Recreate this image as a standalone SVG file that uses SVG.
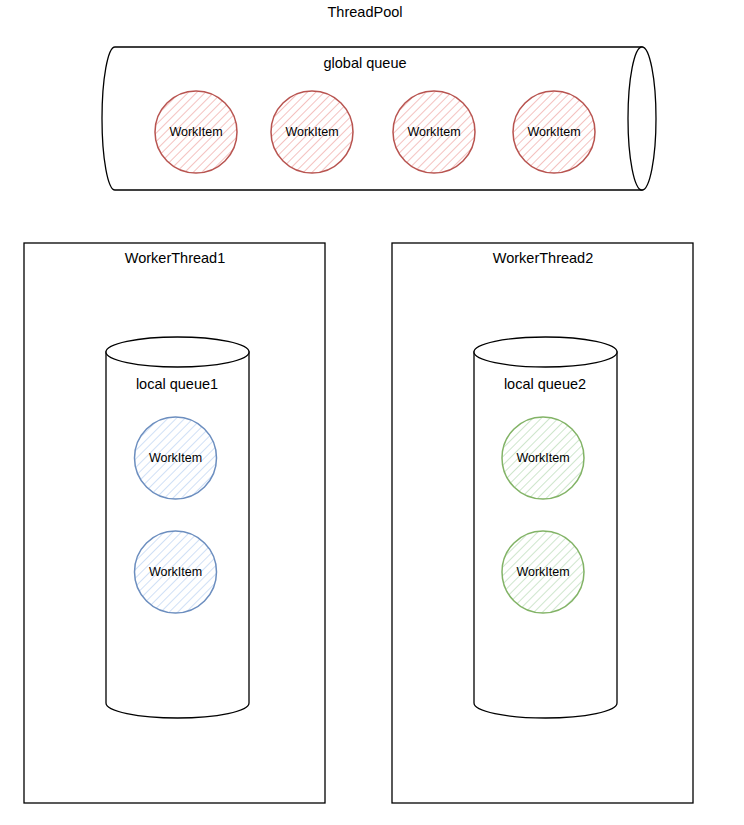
<svg xmlns="http://www.w3.org/2000/svg" width="744" height="825" viewBox="0 0 744 825">
<defs>
<pattern id="hRed" patternUnits="userSpaceOnUse" width="6" height="6" patternTransform="rotate(45)">
<line x1="0" y1="0" x2="0" y2="6" stroke="#f1b3b0" stroke-width="1.6"/>
</pattern>
<pattern id="hBlue" patternUnits="userSpaceOnUse" width="6" height="6" patternTransform="rotate(45)">
<line x1="0" y1="0" x2="0" y2="6" stroke="#c4d8f4" stroke-width="1.6"/>
</pattern>
<pattern id="hGreen" patternUnits="userSpaceOnUse" width="6" height="6" patternTransform="rotate(45)">
<line x1="0" y1="0" x2="0" y2="6" stroke="#c3e0c0" stroke-width="1.6"/>
</pattern>
</defs>
<style>
.t{font-family:"Liberation Sans",Arial,sans-serif;fill:#000;text-anchor:middle;dominant-baseline:central}
.title{font-size:14.5px}
.wi{font-size:12.5px}
.box{fill:#fff;stroke:#000;stroke-width:1.3}
.red{fill:url(#hRed);stroke:#b85450;stroke-width:1.5}
.blue{fill:url(#hBlue);stroke:#6c8ebf;stroke-width:1.5}
.green{fill:url(#hGreen);stroke:#82b366;stroke-width:1.5}
</style>
<rect width="744" height="825" fill="#fff"/>

<g id="threadpool-label"><text class="t title" x="365" y="12">ThreadPool</text></g>

<g id="global-queue">
<path class="box" d="M115,47 L642,47 L642,190 L115,190 A13,71.5 0 0 1 115,47 Z"/>
<ellipse class="box" cx="642" cy="118.5" rx="14" ry="71.5"/>
<text class="t title" x="365" y="63">global queue</text>
</g>

<g id="g-item1"><circle class="red" cx="196" cy="132" r="41"/><text class="t wi" x="196" y="132">WorkItem</text></g>
<g id="g-item2"><circle class="red" cx="312" cy="132" r="41"/><text class="t wi" x="312" y="132">WorkItem</text></g>
<g id="g-item3"><circle class="red" cx="434" cy="132" r="41"/><text class="t wi" x="434" y="132">WorkItem</text></g>
<g id="g-item4"><circle class="red" cx="554" cy="132" r="41"/><text class="t wi" x="554" y="132">WorkItem</text></g>

<g id="worker1">
<rect class="box" x="24" y="243" width="301" height="560"/>
<text class="t title" x="175" y="258">WorkerThread1</text>
</g>
<g id="local-queue1">
<path class="box" d="M106,352 L106,703 A71.5,15 0 0 0 249,703 L249,352 Z"/>
<ellipse class="box" cx="177.5" cy="352" rx="71.5" ry="15"/>
<text class="t title" x="177" y="384">local queue1</text>
</g>
<g id="l1-item1"><circle class="blue" cx="175.5" cy="458" r="41"/><text class="t wi" x="175.5" y="458">WorkItem</text></g>
<g id="l1-item2"><circle class="blue" cx="175.5" cy="572" r="41"/><text class="t wi" x="175.5" y="572">WorkItem</text></g>

<g id="worker2">
<rect class="box" x="392" y="243" width="301" height="560"/>
<text class="t title" x="543" y="258">WorkerThread2</text>
</g>
<g id="local-queue2">
<path class="box" d="M474,352 L474,703 A71.5,15 0 0 0 617,703 L617,352 Z"/>
<ellipse class="box" cx="545.5" cy="352" rx="71.5" ry="15"/>
<text class="t title" x="545" y="384">local queue2</text>
</g>
<g id="l2-item1"><circle class="green" cx="543" cy="458" r="41"/><text class="t wi" x="543" y="458">WorkItem</text></g>
<g id="l2-item2"><circle class="green" cx="543" cy="572" r="41"/><text class="t wi" x="543" y="572">WorkItem</text></g>

<g id="connectors"></g>
</svg>
